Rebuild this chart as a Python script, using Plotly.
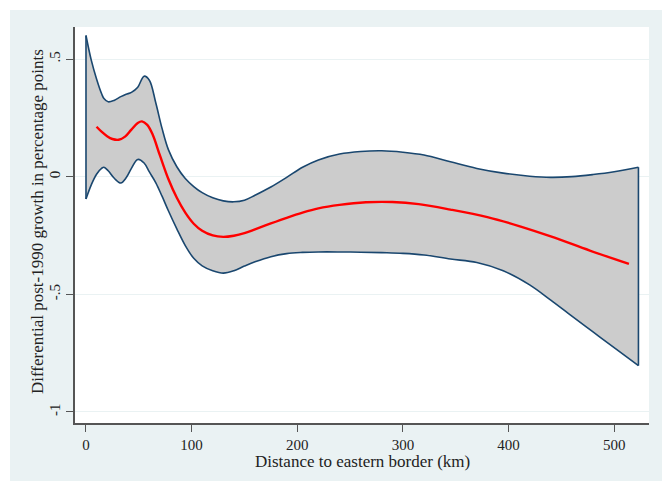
import plotly.graph_objects as go

# ---- data ----
band_x = [0, 5, 10, 15, 17, 21, 27, 33, 38, 43, 49, 55, 60, 66, 72, 78, 86, 94,
          102, 110, 120, 130, 140, 150, 160, 175, 190, 205, 220, 240, 260, 280,
          300, 320, 345, 370, 395, 420, 440, 460, 480, 500, 523]
band_upper = [0.60, 0.495, 0.415, 0.35, 0.332, 0.318, 0.325, 0.34, 0.35, 0.358,
              0.38, 0.427, 0.41, 0.315, 0.205, 0.115, 0.042, -0.008, -0.042,
              -0.068, -0.09, -0.103, -0.107, -0.10, -0.079, -0.044, -0.003,
              0.04, 0.071, 0.096, 0.107, 0.11, 0.104, 0.092, 0.063, 0.035,
              0.015, 0.002, -0.003, 0.0, 0.009, 0.021, 0.04]
band_lower = [-0.095, -0.035, 0.01, 0.036, 0.04, 0.025, -0.008, -0.027, -0.005,
              0.035, 0.073, 0.058, 0.02, -0.025, -0.083, -0.145, -0.222, -0.293,
              -0.347, -0.379, -0.40, -0.41, -0.40, -0.38, -0.362, -0.34, -0.327,
              -0.322, -0.32, -0.32, -0.321, -0.323, -0.326, -0.333, -0.35,
              -0.365, -0.40, -0.46, -0.525, -0.593, -0.66, -0.727, -0.803]

fit_x = [10, 15, 20, 25, 31, 37, 43, 49, 53, 58, 63, 70, 78, 86, 94, 102, 110,
         120, 130, 140, 150, 160, 175, 190, 205, 220, 240, 265, 290, 315, 345,
         380, 410, 440, 477, 514]
fit_y = [0.212, 0.19, 0.172, 0.16, 0.157, 0.17, 0.20, 0.228, 0.235, 0.22, 0.18,
         0.09, -0.01, -0.09, -0.153, -0.20, -0.23, -0.25, -0.256, -0.251,
         -0.24, -0.224, -0.199, -0.175, -0.153, -0.135, -0.12, -0.109, -0.108,
         -0.117, -0.14, -0.172, -0.21, -0.254, -0.314, -0.371]

x_ticks = [0, 100, 200, 300, 400, 500]
y_ticks = [-1, -0.5, 0, 0.5]
y_tick_labels = ["-1", "-.5", "0", ".5"]
x_title = "Distance to eastern border (km)"
y_title = "Differential post-1990 growth in percentage points"

NAVY = "#1a476f"
BG = "#eaf2f3"
FONT = "Liberation Serif"

fig = go.Figure()
fig.add_trace(go.Scatter(x=band_x, y=band_lower, mode="lines",
                         line=dict(color=NAVY, width=1.6, shape="spline"),
                         hoverinfo="skip", showlegend=False))
fig.add_trace(go.Scatter(x=band_x, y=band_upper, mode="lines", fill="tonexty",
                         fillcolor="#cccccc",
                         line=dict(color=NAVY, width=1.6, shape="spline"),
                         hoverinfo="skip", showlegend=False))
# vertical edges of the band
for i in (0, -1):
    fig.add_trace(go.Scatter(x=[band_x[i], band_x[i]], y=[band_lower[i], band_upper[i]],
                             mode="lines", line=dict(color=NAVY, width=1.6),
                             hoverinfo="skip", showlegend=False))
fig.add_trace(go.Scatter(x=fit_x, y=fit_y, mode="lines",
                         line=dict(color="#ff0000", width=2.4, shape="spline"),
                         showlegend=False))

W, H = 662, 481
L, R, T, B = 75, 13, 27, 58
pw, ph = W - L - R, H - T - B

def px2paper_x(p):
    return (p - L) / pw

def py2paper_y(p):
    return (H - B - p) / ph

shapes = [
    dict(type="rect", xref="paper", yref="paper", layer="below",
         x0=px2paper_x(-5), x1=px2paper_x(W + 5), y0=py2paper_y(10), y1=py2paper_y(-5),
         fillcolor="white", line=dict(width=0)),
    dict(type="rect", xref="paper", yref="paper", layer="below",
         x0=px2paper_x(-5), x1=px2paper_x(10), y0=py2paper_y(H + 5), y1=py2paper_y(-5),
         fillcolor="white", line=dict(width=0)),
]

annotations = [
    dict(text=x_title, xref="paper", yref="paper", x=px2paper_x(362), y=py2paper_y(461),
         xanchor="center", yanchor="middle", showarrow=False,
         font=dict(family=FONT, size=17, color="#222222")),
    dict(text=y_title, xref="paper", yref="paper", x=px2paper_x(37), y=py2paper_y(222),
         xanchor="center", yanchor="middle", showarrow=False, textangle=-90,
         font=dict(family=FONT, size=17, color="#222222")),
]

fig.update_layout(
    width=W, height=H,
    margin=dict(l=L, r=R, t=T, b=B, pad=0),
    paper_bgcolor=BG, plot_bgcolor="white",
    font=dict(family=FONT, size=17, color="#222222"),
    shapes=shapes, annotations=annotations,
    xaxis=dict(range=[-10.4, 533], tickvals=x_ticks, ticks="outside", ticklen=7,
               tickwidth=1.2, tickcolor="#555555", showline=True, linecolor="#555555",
               linewidth=1.5, showgrid=False, zeroline=False,
               tickfont=dict(family=FONT, size=15, color="#222222")),
    yaxis=dict(range=[-1.047, 0.636], tickvals=y_ticks, ticktext=y_tick_labels,
               tickangle=-90, ticks="outside", ticklen=7, tickwidth=1.2,
               tickcolor="#555555", showline=True, linecolor="#555555", linewidth=1.5,
               showgrid=True, gridcolor=BG, gridwidth=1.2, zeroline=False,
               tickfont=dict(family=FONT, size=15, color="#222222")),
)

fig.write_html("out.html")
